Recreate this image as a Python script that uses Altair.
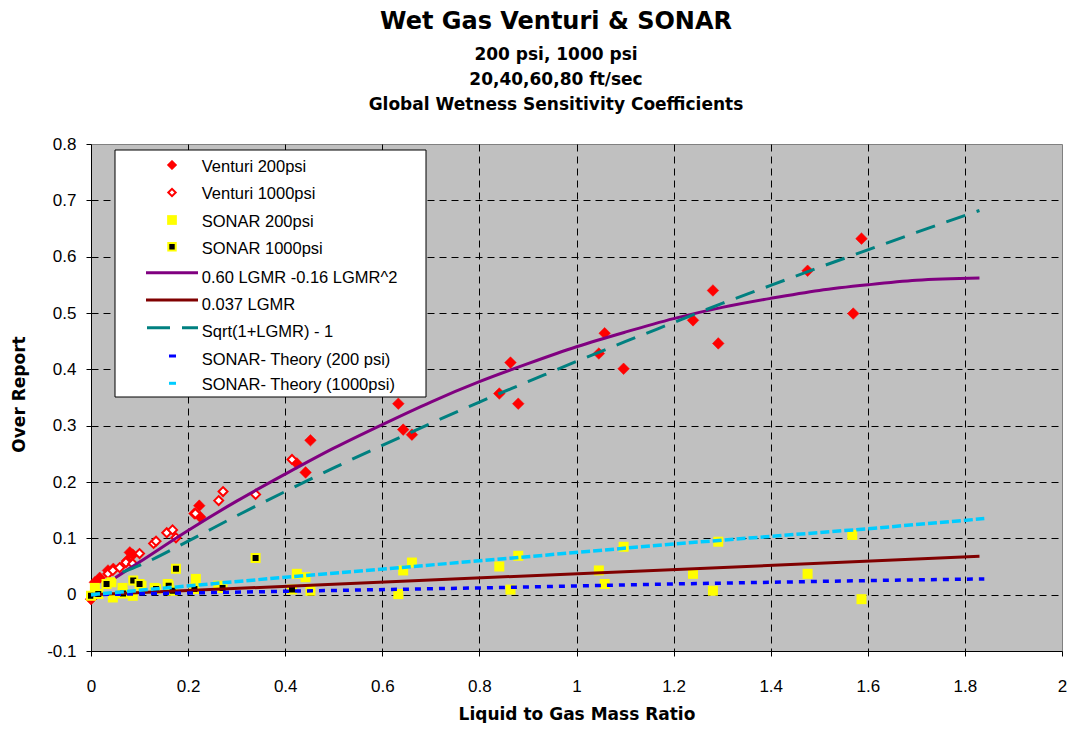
import altair as alt
import pandas as pd

# ---------------- data ----------------
# Venturi 200 psi (filled red diamonds)
v200_x = [0.0, 0.008, 0.018, 0.035, 0.046, 0.074, 0.080, 0.086, 0.213, 0.223, 0.225,
          0.424, 0.442, 0.452, 0.633, 0.643, 0.661, 0.841, 0.864, 0.880,
          1.046, 1.058, 1.097, 1.240, 1.281, 1.292, 1.476, 1.570, 1.587]
v200_y = [-0.008, 0.022, 0.030, 0.043, 0.046, 0.060, 0.075, 0.071, 0.144, 0.158, 0.138,
          0.233, 0.217, 0.274, 0.339, 0.293, 0.284, 0.357, 0.412, 0.339,
          0.428, 0.464, 0.401, 0.487, 0.540, 0.446, 0.575, 0.499, 0.632]

# Venturi 1000 psi (open red diamonds)
v1000_x = [0.035, 0.045, 0.059, 0.072, 0.086, 0.100, 0.129, 0.134, 0.156, 0.168, 0.175,
           0.215, 0.263, 0.272, 0.339, 0.414]
v1000_y = [0.037, 0.043, 0.048, 0.057, 0.055, 0.073, 0.091, 0.095, 0.110, 0.115, 0.101,
           0.144, 0.167, 0.183, 0.178, 0.240]

# SONAR 200 psi (yellow squares)
s200_x = [0.008, 0.042, 0.045, 0.065, 0.086, 0.104, 0.131, 0.158, 0.213, 0.216, 0.262,
          0.424, 0.442, 0.452, 0.633, 0.643, 0.661, 0.841, 0.864, 0.880,
          1.046, 1.058, 1.097, 1.240, 1.281, 1.292, 1.476, 1.568, 1.587]
s200_y = [0.012, 0.022, -0.005, 0.012, -0.002, 0.016, 0.012, 0.019, 0.011, 0.028, 0.016,
          0.037, 0.031, 0.007, 0.001, 0.043, 0.057, 0.050, 0.009, 0.069,
          0.043, 0.019, 0.085, 0.037, 0.007, 0.094, 0.037, 0.106, -0.008]

# SONAR 1000 psi (black squares, yellow border)
s1000_x = [0.0, 0.015, 0.032, 0.066, 0.087, 0.100, 0.134, 0.160, 0.168, 0.175,
           0.213, 0.271, 0.339, 0.414]
s1000_y = [-0.002, 0.001, 0.019, 0.002, 0.025, 0.019, 0.010, 0.016, 0.007, 0.046,
           0.010, 0.012, 0.065, 0.009]

# Fit curves
quad_x = [0.05, 0.1, 0.2, 0.3, 0.4, 0.5, 0.6, 0.7, 0.8, 0.9, 1.0, 1.1, 1.2, 1.3,
          1.4, 1.5, 1.6, 1.7, 1.83]
quad_y = [0.030, 0.058, 0.114, 0.166, 0.214, 0.260, 0.302, 0.342, 0.378, 0.410, 0.440,
          0.466, 0.490, 0.510, 0.526, 0.540, 0.550, 0.558, 0.562]

lin_x = [0.0, 1.83]
lin_y = [0.0, 0.068]

sqrt_x = [0.065, 0.1, 0.2, 0.3, 0.4, 0.5, 0.6, 0.7, 0.8, 0.9, 1.0, 1.1, 1.2, 1.3,
          1.4, 1.5, 1.6, 1.7, 1.83]
sqrt_y = [0.040, 0.052, 0.095, 0.140, 0.183, 0.225, 0.265, 0.304, 0.342, 0.378, 0.414,
          0.449, 0.483, 0.517, 0.549, 0.581, 0.612, 0.643, 0.682]

th200_x = [0.0, 0.4, 0.8, 1.2, 1.6, 1.84]
th200_y = [0.0, 0.006, 0.012, 0.019, 0.025, 0.028]

th1000_x = [0.0, 0.4, 0.8, 1.2, 1.6, 1.84]
th1000_y = [0.0, 0.031, 0.060, 0.090, 0.117, 0.135]

x_ticks = [0, 0.2, 0.4, 0.6, 0.8, 1, 1.2, 1.4, 1.6, 1.8, 2]
y_ticks = [-0.1, 0, 0.1, 0.2, 0.3, 0.4, 0.5, 0.6, 0.7, 0.8]

legend_labels = ["Venturi 200psi", "Venturi 1000psi", "SONAR 200psi", "SONAR 1000psi",
                 "0.60 LGMR -0.16 LGMR^2", "0.037 LGMR", "Sqrt(1+LGMR) - 1",
                 "SONAR- Theory (200 psi)", "SONAR- Theory (1000psi)"]

# ---------------- chart ----------------
W, H = 971, 507
LABEL_FONT = "Liberation Sans"
BOLD_FONT = "DejaVu Sans"

xaxis = alt.Axis(
    values=x_ticks, format="~g", labelFont=LABEL_FONT, labelFontSize=17, labelColor="black",
    labelPadding=22, labelFlush=False, labelOverlap=False, tickSize=5, tickColor="black",
    domainColor="black", gridColor="black", gridDash=[7, 5], gridWidth=1,
    gridOpacity={"condition": {"test": "datum.value <= 0 || datum.value >= 2", "value": 0}, "value": 1},
    title="Liquid to Gas Mass Ratio", titleFont=BOLD_FONT, titleFontSize=17,
    titleFontWeight="bold", titleColor="black", titleY=68, titleBaseline="alphabetic",
)
yaxis = alt.Axis(
    values=y_ticks, labelExpr="datum.value < 0 ? '-' + format(-datum.value, '~g') : format(datum.value, '~g')",
    labelFont=LABEL_FONT, labelFontSize=17, labelColor="black", labelPadding=10,
    labelFlush=False, labelOverlap=False, tickSize=5, tickColor="black", domainColor="black",
    gridColor="black", gridDash=[7, 5], gridWidth=1,
    gridOpacity={"condition": {"test": "datum.value <= -0.1 || datum.value >= 0.8", "value": 0}, "value": 1},
    title="Over Report", titleFont=BOLD_FONT, titleFontSize=17, titleFontWeight="bold",
    titleColor="black", titleX=-67, titleY=250, titleAngle=270, titleBaseline="alphabetic",
)
xs = alt.Scale(domain=[0, 2], nice=False, zero=False)
ys = alt.Scale(domain=[-0.1, 0.8], nice=False, zero=False)


def enc(ch):
    return ch.encode(x=alt.X("x:Q", scale=xs, axis=xaxis), y=alt.Y("y:Q", scale=ys, axis=yaxis))


def df(x, y):
    return pd.DataFrame({"x": x, "y": y})


layers = []
layers.append(enc(alt.Chart(df(v200_x, v200_y)).mark_point(
    shape="diamond", filled=True, fill="#FF0000", stroke="#FF0000", strokeWidth=0.5,
    size=135, opacity=1)))
layers.append(enc(alt.Chart(df(v1000_x, v1000_y)).mark_point(
    shape="diamond", filled=True, fill="#FFFFFF", stroke="#FF0000", strokeWidth=2,
    size=80, opacity=1)))
layers.append(enc(alt.Chart(df(s200_x, s200_y)).mark_square(
    fill="#FFFF00", size=100, opacity=1)))
layers.append(enc(alt.Chart(df(s1000_x, s1000_y)).mark_square(
    fill="#000000", stroke="#FFFF00", strokeWidth=2, size=64, opacity=1)))

layers.append(enc(alt.Chart(df(quad_x, quad_y)).mark_line(
    color="#800080", strokeWidth=3, interpolate="monotone")))
layers.append(enc(alt.Chart(df(lin_x, lin_y)).mark_line(
    color="#800000", strokeWidth=3)))
layers.append(enc(alt.Chart(df(sqrt_x, sqrt_y)).mark_line(
    color="#008080", strokeWidth=3, strokeDash=[20, 12], interpolate="monotone")))
layers.append(enc(alt.Chart(df(th200_x, th200_y)).mark_line(
    color="#0000FF", strokeWidth=3.5, strokeDash=[6, 6])))
layers.append(enc(alt.Chart(df(th1000_x, th1000_y)).mark_line(
    color="#00CCFF", strokeWidth=3.5, strokeDash=[9, 3])))

# ---------------- legend (drawn inside the plot) ----------------
one = pd.DataFrame({"k": [0]})
layers.append(alt.Chart(one).mark_rect(fill="white", stroke="black", strokeWidth=1).encode(
    x=alt.value(24), x2=alt.value(335), y=alt.value(6), y2=alt.value(253)))

sym_y = [21, 48.5, 76, 102.7, 128.7, 156, 183.7, 212, 239.3]
txt_y = [22.7, 50.3, 78, 105.3, 133.7, 161, 188, 216, 241]
SX = 81

layers.append(alt.Chart(one).mark_point(shape="diamond", filled=True, fill="#FF0000",
                                         stroke="#FF0000", strokeWidth=0.5, size=95, opacity=1)
              .encode(x=alt.value(SX), y=alt.value(sym_y[0])))
layers.append(alt.Chart(one).mark_point(shape="diamond", filled=True, fill="#FFFFFF",
                                         stroke="#FF0000", strokeWidth=2, size=55, opacity=1)
              .encode(x=alt.value(SX), y=alt.value(sym_y[1])))
layers.append(alt.Chart(one).mark_square(fill="#FFFF00", size=95, opacity=1)
              .encode(x=alt.value(SX), y=alt.value(sym_y[2])))
layers.append(alt.Chart(one).mark_square(fill="#000000", stroke="#FFFF00", strokeWidth=2,
                                          size=55, opacity=1)
              .encode(x=alt.value(SX), y=alt.value(sym_y[3])))
layers.append(alt.Chart(one).mark_rule(color="#800080", strokeWidth=3)
              .encode(x=alt.value(55), x2=alt.value(107), y=alt.value(sym_y[4])))
layers.append(alt.Chart(one).mark_rule(color="#800000", strokeWidth=3)
              .encode(x=alt.value(55), x2=alt.value(107), y=alt.value(sym_y[5])))
layers.append(alt.Chart(one).mark_rule(color="#008080", strokeWidth=3, strokeDash=[23, 12])
              .encode(x=alt.value(56), x2=alt.value(107), y=alt.value(sym_y[6])))
layers.append(alt.Chart(one).mark_rule(color="#0000FF", strokeWidth=3)
              .encode(x=alt.value(78), x2=alt.value(85), y=alt.value(sym_y[7])))
layers.append(alt.Chart(one).mark_rule(color="#00CCFF", strokeWidth=3)
              .encode(x=alt.value(78), x2=alt.value(85), y=alt.value(sym_y[8])))

for lab, ty in zip(legend_labels, txt_y):
    layers.append(alt.Chart(pd.DataFrame({"label": [lab]})).mark_text(
        align="left", baseline="middle", font=LABEL_FONT, fontSize=16.5, color="black")
        .encode(x=alt.value(110.7), y=alt.value(ty), text="label:N"))

chart = alt.layer(*layers).properties(
    width=W, height=H,
    title=alt.TitleParams(
        text="Wet Gas Venturi  & SONAR",
        subtitle=["200 psi, 1000 psi", "20,40,60,80 ft/sec",
                  "Global Wetness Sensitivity Coefficients"],
        font=BOLD_FONT, fontSize=24, fontWeight="bold", color="black",
        subtitleFont=BOLD_FONT, subtitleFontSize=17, subtitleFontWeight="bold",
        subtitleColor="black", subtitleLineHeight=25, subtitlePadding=13,
        offset=22, anchor="middle", dx=-20.5, frame="group"),
    padding={"left": 83, "top": 136, "right": 5, "bottom": 72},
    autosize=alt.AutoSizeParams(type="none"),
    background="white",
).configure_view(fill="#C0C0C0", stroke="#808080", strokeWidth=1)

chart.save("out.html", embed_options={"renderer": "svg", "actions": False})
